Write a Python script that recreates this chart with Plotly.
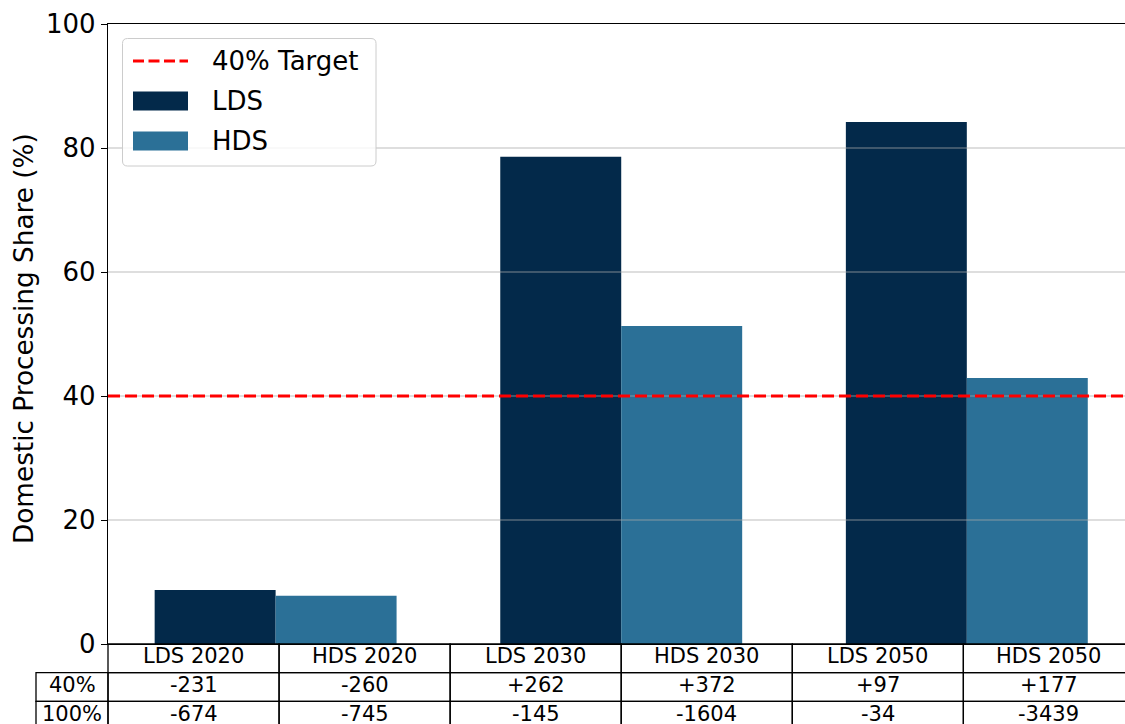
import plotly.graph_objects as go

# ---- data -------------------------------------------------------------
years = ["2020", "2030", "2050"]
scenarios = ["LDS", "HDS"]
lds_share = [8.7, 78.6, 84.2]      # domestic processing share, %
hds_share = [7.8, 51.3, 42.9]
target_share = 40

row_labels = ["40%", "100%"]
gap_40 = [-231, -260, 262, 372, 97, 177]
gap_100 = [-674, -745, -145, -1604, -34, -3439]

y_ticks = [0, 20, 40, 60, 80, 100]

# ---- styling / geometry ---------------------------------------------
FONT = "DejaVu Sans"
C_LDS = "#03294a"
C_HDS = "#2b7097"
W, H = 1125, 724
ML, MR, MT, MB = 108, 0, 24, 80
PW, PH = W - ML - MR, H - MT - MB
BAR_W = 0.35
X_LEFT = -0.485
UNIT_PX = 345.6                      # pixels per group on the x axis
X_RIGHT = X_LEFT + PW / UNIT_PX


def px(xp):
    """pixel x -> paper x"""
    return (xp - ML) / PW


def py(yp):
    """pixel y -> paper y"""
    return (H - MB - yp) / PH


groups = list(range(len(years)))

fig = go.Figure()
fig.add_trace(go.Bar(x=groups, y=lds_share, width=BAR_W, offset=-BAR_W,
                     marker=dict(color=C_LDS, line=dict(width=0)),
                     name="LDS", showlegend=False))
fig.add_trace(go.Bar(x=groups, y=hds_share, width=BAR_W, offset=0,
                     marker=dict(color=C_HDS, line=dict(width=0)),
                     name="HDS", showlegend=False))

shapes = []
annotations = []

# horizontal grid drawn over the bars
for v in y_ticks[1:-1]:
    shapes.append(dict(type="line", xref="paper", yref="y", x0=0, x1=1, y0=v, y1=v,
                       line=dict(color="rgba(170,170,170,0.5)", width=1.3), layer="above"))

# target line
shapes.append(dict(type="line", xref="paper", yref="y", x0=0, x1=1,
                   y0=target_share, y1=target_share,
                   line=dict(color="red", width=3, dash="12px,5px"), layer="above"))

# ---- legend box -------------------------------------------------------
bx0, bx1, by0, by1, r = 122.5, 376, 38.5, 166, 5


def rounded_rect(x0, y0, x1, y1, rad):
    X = lambda v: px(v)
    Y = lambda v: py(v)
    return (f"M {X(x0+rad)},{Y(y0)} L {X(x1-rad)},{Y(y0)} Q {X(x1)},{Y(y0)} {X(x1)},{Y(y0+rad)} "
            f"L {X(x1)},{Y(y1-rad)} Q {X(x1)},{Y(y1)} {X(x1-rad)},{Y(y1)} "
            f"L {X(x0+rad)},{Y(y1)} Q {X(x0)},{Y(y1)} {X(x0)},{Y(y1-rad)} "
            f"L {X(x0)},{Y(y0+rad)} Q {X(x0)},{Y(y0)} {X(x0+rad)},{Y(y0)} Z")


shapes.append(dict(type="path", xref="paper", yref="paper",
                   path=rounded_rect(bx0, by0, bx1, by1, r),
                   fillcolor="rgba(255,255,255,0.8)",
                   line=dict(color="#cccccc", width=1), layer="above"))

legend_items = [("40% Target", "line", "red"), ("LDS", "rect", C_LDS), ("HDS", "rect", C_HDS)]
for i, (label, kind, color) in enumerate(legend_items):
    yc = 61 + 40 * i
    if kind == "line":
        shapes.append(dict(type="line", xref="paper", yref="paper",
                           x0=px(133), x1=px(188), y0=py(yc), y1=py(yc),
                           line=dict(color=color, width=3, dash="11px,4.5px"), layer="above"))
    else:
        shapes.append(dict(type="rect", xref="paper", yref="paper",
                           x0=px(133), x1=px(188), y0=py(yc - 9.5), y1=py(yc + 9.5),
                           fillcolor=color, line=dict(width=0), layer="above"))
    annotations.append(dict(xref="paper", yref="paper", x=px(210), y=py(yc),
                            xanchor="left", yanchor="middle", showarrow=False,
                            text=label, font=dict(family=FONT, size=26, color="black")))

# y-axis title, centred on the axis
annotations.append(dict(xref="paper", yref="paper", x=px(24), y=py(339),
                        xanchor="center", yanchor="middle", showarrow=False, textangle=-90,
                        text="Domestic Processing Share (%)",
                        font=dict(family=FONT, size=26.3, color="black")))

# ---- table under the axes ----------------------------------------------
col_labels = [f"{s} {y}" for y in years for s in scenarios]
COL_W = (2.97 * UNIT_PX) / len(col_labels)
ROW_H = 28.7
LABEL_X0 = 36
top = H - MB
cell_line = dict(color="black", width=1.3)


def cell(x0, y0, x1, y1):
    shapes.append(dict(type="rect", xref="paper", yref="paper",
                       x0=px(x0), x1=px(x1), y0=py(y0), y1=py(y1),
                       line=cell_line, fillcolor="rgba(0,0,0,0)", layer="above"))


def cell_text(xc, yc, txt):
    annotations.append(dict(xref="paper", yref="paper", x=px(xc), y=py(yc - 2),
                            xanchor="center", yanchor="middle", showarrow=False,
                            text=txt, font=dict(family=FONT, size=21, color="black")))


rows = [col_labels,
        [f"{v:+d}" for v in gap_40],
        [f"{v:+d}" for v in gap_100]]
for ri, row in enumerate(rows):
    y0 = top + ri * ROW_H
    y1 = y0 + ROW_H
    for ci, txt in enumerate(row):
        x0 = ML + ci * COL_W
        cell(x0, y0, x0 + COL_W, y1)
        cell_text(x0 + COL_W / 2, (y0 + y1) / 2, txt)
    if ri > 0:
        cell(LABEL_X0, y0, ML, y1)
        cell_text((LABEL_X0 + ML) / 2, (y0 + y1) / 2, row_labels[ri - 1])

fig.update_layout(
    width=W, height=H, autosize=False,
    margin=dict(l=ML, r=MR, t=MT, b=MB, pad=0),
    paper_bgcolor="white", plot_bgcolor="white",
    font=dict(family=FONT, color="black"),
    barmode="overlay",
    showlegend=False,
    shapes=shapes,
    annotations=annotations,
    xaxis=dict(range=[X_LEFT, X_RIGHT], showticklabels=False, ticks="",
               showgrid=False, zeroline=False, showline=True, mirror=True,
               linecolor="black", linewidth=1.3, fixedrange=True),
    yaxis=dict(range=[0, 100], tickvals=y_ticks, ticks="outside", ticklen=6,
               tickwidth=1.3, tickcolor="black", showgrid=False, zeroline=False,
               showline=True, linecolor="black", linewidth=1.3,
               tickfont=dict(family=FONT, size=26, color="black"),
               fixedrange=True),
)

fig.write_html("out.html", config={"displayModeBar": False})
